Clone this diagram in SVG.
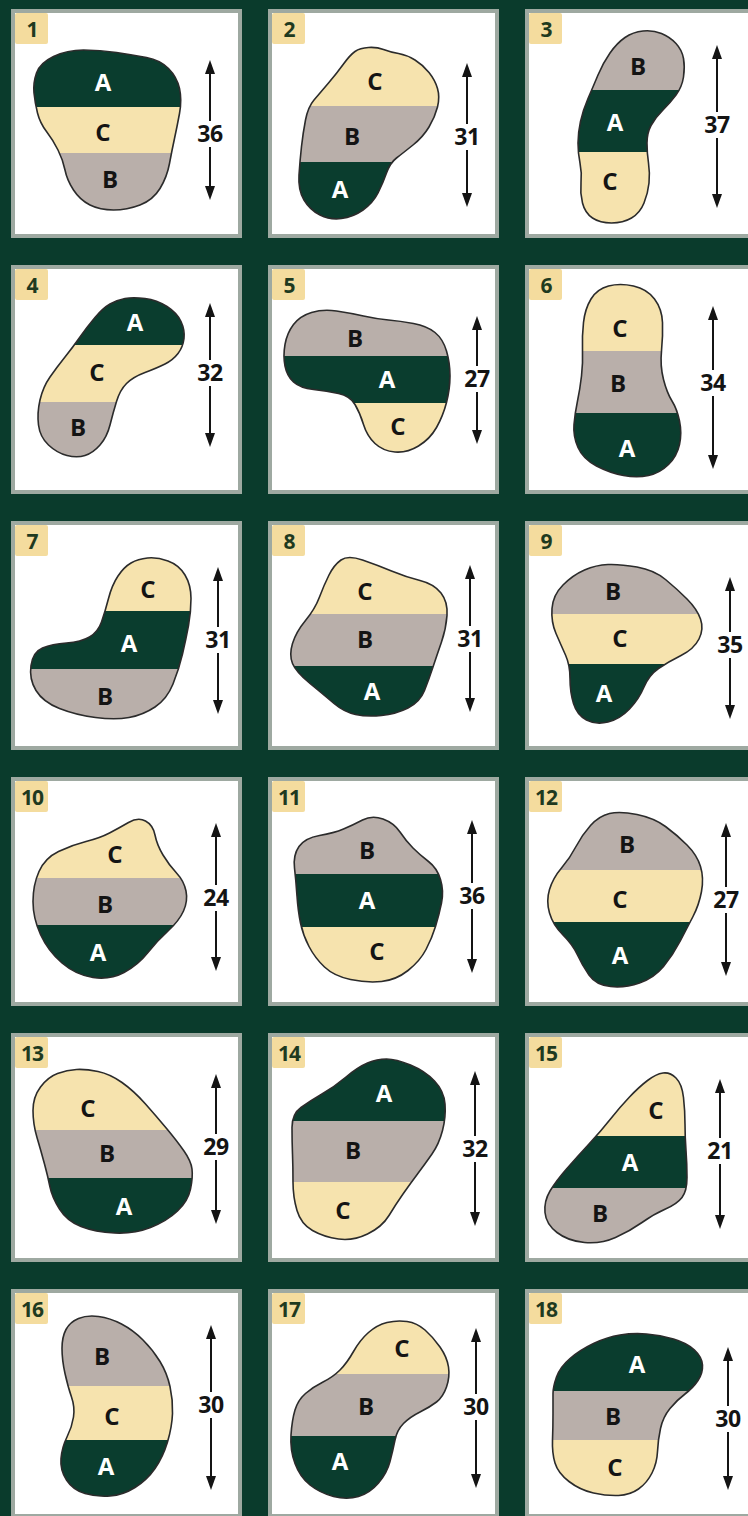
<svg xmlns="http://www.w3.org/2000/svg" xmlns:xlink="http://www.w3.org/1999/xlink" width="748" height="1516" viewBox="0 0 748 1516">
<style>
.bg{fill:#0a3b2c}
.frame{fill:#ffffff;stroke:#9ea9a1;stroke-width:4}
.badge{fill:#f4dc9e}
.num{font-family:"Open Sans","DejaVu Sans",sans-serif;font-weight:700;font-size:21px;fill:#1f3a1f;text-anchor:middle;letter-spacing:-1px}
.a{fill:#0a3d2e}
.b{fill:#b9afaa}
.c{fill:#f6e3ae}
.outline{fill:none;stroke:#2b2b2b;stroke-width:1.6}
.lbl{font-family:"Open Sans","DejaVu Sans",sans-serif;font-weight:700;font-size:24px;fill:#141414;text-anchor:middle}
.lw{fill:#ffffff}
.dim{stroke:#141414;stroke-width:2;fill:none;marker-start:url(#ah);marker-end:url(#ah)}
.dimtxt{font-family:"Open Sans","DejaVu Sans",sans-serif;font-weight:700;font-size:23px;fill:#141414;text-anchor:middle;letter-spacing:-0.5px}
</style>
<defs>
<marker id="ah" viewBox="0 0 14 10" refX="10" refY="5" markerWidth="14" markerHeight="10" markerUnits="userSpaceOnUse" orient="auto-start-reverse">
<path d="M0,0 L14,5 L0,10 Z" fill="#141414"/>
</marker>
<path id="s1" d="M36.5,73 Q40,63 53.5,56.5 Q67,50 83.5,50 Q100,50 116.5,52.5 Q133,55 146.5,57.5 Q160,60 168.5,68.5 Q177,77 179.5,88.5 Q182,100 179.5,113.5 Q177,127 174.5,138.5 Q172,150 169.5,163.5 Q167,177 160,188.5 Q153,200 140,205 Q127,210 113.5,210 Q100,210 90,205 Q80,200 73.5,190 Q67,180 65,170 Q63,160 58,150 Q53,140 46.5,131.5 Q40,123 37.5,113 Q35,103 34,93 Q33,83 36.5,73 Z"/>
<path id="s2" d="M355,51.5 Q360,48 368.5,47.5 Q377,47 383.5,49.5 Q390,52 398.5,53.5 Q407,55 415,60 Q423,65 429,72.5 Q435,80 437.5,88.5 Q440,97 437.5,107 Q435,117 429,127 Q423,137 413,145 Q403,153 396.5,158 Q390,163 386.5,173 Q383,183 378,193 Q373,203 363,210 Q353,217 341.5,218.5 Q330,220 320,215 Q310,210 304,200 Q298,190 299,175 Q300,160 301.5,146.5 Q303,133 305.5,120 Q308,107 314,100 Q320,93 328.5,83 Q337,73 343.5,64 Q350,55 355,51.5 Z"/>
<path id="s3" d="M643,31 Q653,30 661.5,33.5 Q670,37 676,43.5 Q682,50 683.5,58.5 Q685,67 683.5,77 Q682,87 676,95 Q670,103 662.5,110.5 Q655,118 651,125.5 Q647,133 647,143 Q647,153 648.5,163 Q650,173 649,183 Q648,193 644,203 Q640,213 631.5,218 Q623,223 611.5,223 Q600,223 592.5,218 Q585,213 582.5,203 Q580,193 581,183 Q582,173 580,163 Q578,153 578,143 Q578,133 580.5,121.5 Q583,110 588,98.5 Q593,87 598,75 Q603,63 610,53 Q617,43 625,37.5 Q633,32 643,31 Z"/>
<path id="s4" d="M125,298.5 Q133,297 145,298.5 Q157,300 167,306.5 Q177,313 181,321.5 Q185,330 184,338.5 Q183,347 178,353.5 Q173,360 165,364 Q157,368 145,372.5 Q133,377 126.5,383.5 Q120,390 116.5,401.5 Q113,413 110,425 Q107,437 100,445 Q93,453 85,455.5 Q77,458 67,455.5 Q57,453 48.5,445 Q40,437 38.5,425 Q37,413 40,400 Q43,387 50,377 Q57,367 65,357 Q73,347 80,337 Q87,327 95,317.5 Q103,308 110,304 Q117,300 125,298.5 Z"/>
<path id="s5" d="M311.5,312.5 Q323,309 336.5,311 Q350,313 363.5,316 Q377,319 388.5,320 Q400,321 413.5,323.5 Q427,326 435,332.5 Q443,339 446.5,351 Q450,363 450,376 Q450,389 446.5,402.5 Q443,416 436.5,427.5 Q430,439 418.5,446 Q407,453 395,452 Q383,451 375,443.5 Q367,436 363.5,424.5 Q360,413 355,404.5 Q350,396 338.5,393.5 Q327,391 313.5,389.5 Q300,388 293.5,382 Q287,376 285,366 Q283,356 285,344.5 Q287,333 293.5,324.5 Q300,316 311.5,312.5 Z"/>
<path id="s6" d="M608.5,286 Q620,283 633.5,286 Q647,289 654.5,299 Q662,309 662.5,322.5 Q663,336 661.5,351 Q660,366 663.5,379.5 Q667,393 672,401 Q677,409 679.5,421 Q682,433 679.5,444.5 Q677,456 668.5,464.5 Q660,473 648.5,475.5 Q637,478 623.5,475.5 Q610,473 596.5,466 Q583,459 578,447.5 Q573,436 574,424.5 Q575,413 577.5,401 Q580,389 581.5,376 Q583,363 582.5,349.5 Q582,336 583.5,322.5 Q585,309 591,299 Q597,289 608.5,286 Z"/>
<path id="s7" d="M147.5,558 Q157,557 168,561 Q179,565 185,575 Q191,585 191,598.5 Q191,612 188.5,625.5 Q186,639 182.5,654 Q179,669 173,684 Q167,699 155,707 Q143,715 129,717.5 Q115,720 95.5,717.5 Q76,715 59.5,708.5 Q43,702 36,690.5 Q29,679 31,665.5 Q33,652 42.5,648 Q52,644 66.5,643 Q81,642 89.5,637 Q98,632 101.5,622 Q105,612 108.5,598.5 Q112,585 118,576 Q124,567 131,563 Q138,559 147.5,558 Z"/>
<path id="s8" d="M341,560 Q348,555 362.5,560 Q377,565 391.5,571 Q406,577 420,580.5 Q434,584 441,593 Q448,602 447,615.5 Q446,629 441.5,642 Q437,655 433,667 Q429,679 424.5,690.5 Q420,702 408,708 Q396,714 381.5,715.5 Q367,717 355.5,714.5 Q344,712 334,703.5 Q324,695 310,683.5 Q296,672 292.5,663.5 Q289,655 292.5,643.5 Q296,632 305.5,620.5 Q315,609 319.5,597 Q324,585 329,575 Q334,565 341,560 Z"/>
<path id="s9" d="M608,564.5 Q620,564 637,567 Q654,570 665.5,579.5 Q677,589 687,599 Q697,609 700.5,619 Q704,629 699,639 Q694,649 681,655.5 Q668,662 658.5,668.5 Q649,675 644,687 Q639,699 629.5,709 Q620,719 608,722 Q596,725 586.5,720 Q577,715 573.5,703.5 Q570,692 570,678.5 Q570,665 565.5,655 Q561,645 556,633.5 Q551,622 552,608.5 Q553,595 563,585 Q573,575 584.5,570 Q596,565 608,564.5 Z"/>
<path id="s10" d="M128.5,822.5 Q138,817 145.5,821 Q153,825 155,835 Q157,845 163,855 Q169,865 176.5,873 Q184,881 186,891 Q188,901 183.5,911 Q179,921 168,931 Q157,941 147.5,953 Q138,965 124,972.5 Q110,980 93,977.5 Q76,975 62,963 Q48,951 40.5,934.5 Q33,918 33,901.5 Q33,885 39,871.5 Q45,858 58.5,851.5 Q72,845 86,841.5 Q100,838 109.5,833 Q119,828 128.5,822.5 Z"/>
<path id="s11" d="M362.5,820 Q372,815 383,819 Q394,823 400,832 Q406,841 413,848 Q420,855 428.5,861.5 Q437,868 440.5,879.5 Q444,891 441.5,903 Q439,915 435.5,926.5 Q432,938 426,949.5 Q420,961 408,970.5 Q396,980 381.5,981.5 Q367,983 350.5,979.5 Q334,976 324.5,967 Q315,958 309,946.5 Q303,935 300.5,923 Q298,911 297,896 Q296,881 294.5,868 Q293,855 299,846.5 Q305,838 319.5,835.5 Q334,833 343.5,829 Q353,825 362.5,820 Z"/>
<path id="s12" d="M609.5,813.5 Q620,811 637,814.5 Q654,818 665.5,826.5 Q677,835 687,845 Q697,855 700.5,866.5 Q704,878 701.5,891.5 Q699,905 693,916.5 Q687,928 680,941.5 Q673,955 663.5,966.5 Q654,978 639.5,983 Q625,988 610.5,986.5 Q596,985 589,975 Q582,965 577.5,955 Q573,945 563,935 Q553,925 549.5,913 Q546,901 549.5,889.5 Q553,878 561.5,868 Q570,858 576,846.5 Q582,835 590.5,825.5 Q599,816 609.5,813.5 Z"/>
<path id="s13" d="M76.5,1069.5 Q86,1069 98,1071.5 Q110,1074 122,1082.5 Q134,1091 145.5,1104 Q157,1117 167,1129 Q177,1141 184,1151 Q191,1161 192,1169 Q193,1177 190.5,1189 Q188,1201 177.5,1211 Q167,1221 150.5,1227.5 Q134,1234 114.5,1233 Q95,1232 81,1226.5 Q67,1221 59.5,1209 Q52,1197 50,1187 Q48,1177 44.5,1164 Q41,1151 37,1137.5 Q33,1124 33,1110.5 Q33,1097 40.5,1087 Q48,1077 57.5,1073.5 Q67,1070 76.5,1069.5 Z"/>
<path id="s14" d="M386.5,1059 Q396,1059 410.5,1065 Q425,1071 434.5,1081 Q444,1091 445,1104 Q446,1117 442.5,1130.5 Q439,1144 432,1154 Q425,1164 417.5,1174 Q410,1184 403,1194 Q396,1204 389,1215.5 Q382,1227 367.5,1234 Q353,1241 338.5,1239 Q324,1237 312.5,1230.5 Q301,1224 297,1210.5 Q293,1197 293,1182 Q293,1167 292.5,1154 Q292,1141 292,1127.5 Q292,1114 301,1107.5 Q310,1101 322,1094 Q334,1087 346,1077 Q358,1067 367.5,1063 Q377,1059 386.5,1059 Z"/>
<path id="s15" d="M663,1073 Q670,1072 676,1078 Q682,1084 683.5,1097.5 Q685,1111 685,1124 Q685,1137 686,1150.5 Q687,1164 687,1177.5 Q687,1191 682,1197.5 Q677,1204 665.5,1209 Q654,1214 642,1222.5 Q630,1231 615.5,1237.5 Q601,1244 584.5,1242.5 Q568,1241 557,1232.5 Q546,1224 545,1212.5 Q544,1201 550,1191 Q556,1181 566.5,1169 Q577,1157 589,1144 Q601,1131 610.5,1119 Q620,1107 629.5,1097 Q639,1087 647.5,1080.5 Q656,1074 663,1073 Z"/>
<path id="s16" d="M78.5,1318.5 Q87,1315 98.5,1316.5 Q110,1318 121.5,1324 Q133,1330 143,1340 Q153,1350 160,1361.5 Q167,1373 170,1386.5 Q173,1400 172.5,1413.5 Q172,1427 167.5,1442 Q163,1457 155,1468.5 Q147,1480 135,1487.5 Q123,1495 110,1496 Q97,1497 85,1493.5 Q73,1490 66.5,1480 Q60,1470 61,1458.5 Q62,1447 67,1437 Q72,1427 73.5,1417 Q75,1407 71.5,1397 Q68,1387 65,1373.5 Q62,1360 62,1348.5 Q62,1337 66,1329.5 Q70,1322 78.5,1318.5 Z"/>
<path id="s17" d="M387,1322.5 Q397,1320 407,1321.5 Q417,1323 425,1330 Q433,1337 440,1347 Q447,1357 448.5,1367 Q450,1377 446.5,1387 Q443,1397 436.5,1402 Q430,1407 420,1412 Q410,1417 403.5,1423.5 Q397,1430 395,1440 Q393,1450 390,1461.5 Q387,1473 378.5,1483 Q370,1493 358.5,1496.5 Q347,1500 333.5,1496.5 Q320,1493 310,1485 Q300,1477 295,1463.5 Q290,1450 291,1435 Q292,1420 295,1410 Q298,1400 305.5,1393.5 Q313,1387 323,1382 Q333,1377 340,1370 Q347,1363 353.5,1351.5 Q360,1340 368.5,1332.5 Q377,1325 387,1322.5 Z"/>
<path id="s18" d="M620,1335 Q633,1333 646.5,1334 Q660,1335 673.5,1339 Q687,1343 694.5,1350 Q702,1357 702.5,1365 Q703,1373 698,1380.5 Q693,1388 685,1394 Q677,1400 670,1408.5 Q663,1417 660.5,1428.5 Q658,1440 657.5,1451.5 Q657,1463 652,1473 Q647,1483 638.5,1489 Q630,1495 618.5,1495.5 Q607,1496 593.5,1493 Q580,1490 569,1481.5 Q558,1473 555,1463 Q552,1453 552.5,1440 Q553,1427 553,1413.5 Q553,1400 553,1393.5 Q553,1387 556.5,1377 Q560,1367 570,1358.5 Q580,1350 593.5,1343.5 Q607,1337 620,1335 Z"/>
<clipPath id="c1"><use href="#s1"/></clipPath>
<clipPath id="c2"><use href="#s2"/></clipPath>
<clipPath id="c3"><use href="#s3"/></clipPath>
<clipPath id="c4"><use href="#s4"/></clipPath>
<clipPath id="c5"><use href="#s5"/></clipPath>
<clipPath id="c6"><use href="#s6"/></clipPath>
<clipPath id="c7"><use href="#s7"/></clipPath>
<clipPath id="c8"><use href="#s8"/></clipPath>
<clipPath id="c9"><use href="#s9"/></clipPath>
<clipPath id="c10"><use href="#s10"/></clipPath>
<clipPath id="c11"><use href="#s11"/></clipPath>
<clipPath id="c12"><use href="#s12"/></clipPath>
<clipPath id="c13"><use href="#s13"/></clipPath>
<clipPath id="c14"><use href="#s14"/></clipPath>
<clipPath id="c15"><use href="#s15"/></clipPath>
<clipPath id="c16"><use href="#s16"/></clipPath>
<clipPath id="c17"><use href="#s17"/></clipPath>
<clipPath id="c18"><use href="#s18"/></clipPath>
</defs>
<rect class="bg" x="0" y="0" width="748" height="1516"/>

<g id="panel-1">
<rect class="frame" x="13" y="11" width="227" height="225"/>
<rect class="badge" x="15" y="13" width="33" height="31" rx="2"/>
<text class="num" x="32" y="37">1</text>
<g clip-path="url(#c1)"><rect class="a" x="11" y="9" width="231" height="98"/><rect class="c" x="11" y="107" width="231" height="46"/><rect class="b" x="11" y="153" width="231" height="85"/></g>
<use href="#s1" class="outline"/>
<text class="lbl lw" x="103" y="91">A</text><text class="lbl" x="103" y="141">C</text><text class="lbl" x="110" y="188">B</text>
</g>

<g id="panel-2">
<rect class="frame" x="270" y="11" width="227" height="225"/>
<rect class="badge" x="272" y="13" width="33" height="31" rx="2"/>
<text class="num" x="289" y="37">2</text>
<g clip-path="url(#c2)"><rect class="c" x="268" y="9" width="231" height="97"/><rect class="b" x="268" y="106" width="231" height="56"/><rect class="a" x="268" y="162" width="231" height="76"/></g>
<use href="#s2" class="outline"/>
<text class="lbl" x="375" y="90">C</text><text class="lbl" x="352" y="145">B</text><text class="lbl lw" x="340" y="198">A</text>
</g>

<g id="panel-3">
<rect class="frame" x="527" y="11" width="227" height="225"/>
<rect class="badge" x="529" y="13" width="33" height="31" rx="2"/>
<text class="num" x="546" y="37">3</text>
<g clip-path="url(#c3)"><rect class="b" x="525" y="9" width="231" height="81"/><rect class="a" x="525" y="90" width="231" height="62"/><rect class="c" x="525" y="152" width="231" height="86"/></g>
<use href="#s3" class="outline"/>
<text class="lbl" x="638" y="75">B</text><text class="lbl lw" x="615" y="131">A</text><text class="lbl" x="610" y="190">C</text>
</g>

<g id="panel-4">
<rect class="frame" x="13" y="267" width="227" height="225"/>
<rect class="badge" x="15" y="269" width="33" height="31" rx="2"/>
<text class="num" x="32" y="293">4</text>
<g clip-path="url(#c4)"><rect class="a" x="11" y="265" width="231" height="80"/><rect class="c" x="11" y="345" width="231" height="57"/><rect class="b" x="11" y="402" width="231" height="92"/></g>
<use href="#s4" class="outline"/>
<text class="lbl lw" x="135" y="331">A</text><text class="lbl" x="97" y="381">C</text><text class="lbl" x="78" y="436">B</text>
</g>

<g id="panel-5">
<rect class="frame" x="270" y="267" width="227" height="225"/>
<rect class="badge" x="272" y="269" width="33" height="31" rx="2"/>
<text class="num" x="289" y="293">5</text>
<g clip-path="url(#c5)"><rect class="b" x="268" y="265" width="231" height="91"/><rect class="a" x="268" y="356" width="231" height="47"/><rect class="c" x="268" y="403" width="231" height="91"/></g>
<use href="#s5" class="outline"/>
<text class="lbl" x="355" y="347">B</text><text class="lbl lw" x="387" y="388">A</text><text class="lbl" x="398" y="435">C</text>
</g>

<g id="panel-6">
<rect class="frame" x="527" y="267" width="227" height="225"/>
<rect class="badge" x="529" y="269" width="33" height="31" rx="2"/>
<text class="num" x="546" y="293">6</text>
<g clip-path="url(#c6)"><rect class="c" x="525" y="265" width="231" height="86"/><rect class="b" x="525" y="351" width="231" height="62"/><rect class="a" x="525" y="413" width="231" height="81"/></g>
<use href="#s6" class="outline"/>
<text class="lbl" x="620" y="337">C</text><text class="lbl" x="618" y="392">B</text><text class="lbl lw" x="627" y="457">A</text>
</g>

<g id="panel-7">
<rect class="frame" x="13" y="523" width="227" height="225"/>
<rect class="badge" x="15" y="525" width="33" height="31" rx="2"/>
<text class="num" x="32" y="549">7</text>
<g clip-path="url(#c7)"><rect class="c" x="11" y="521" width="231" height="90"/><rect class="a" x="11" y="611" width="231" height="58"/><rect class="b" x="11" y="669" width="231" height="81"/></g>
<use href="#s7" class="outline"/>
<text class="lbl" x="148" y="598">C</text><text class="lbl lw" x="129" y="652">A</text><text class="lbl" x="105" y="705">B</text>
</g>

<g id="panel-8">
<rect class="frame" x="270" y="523" width="227" height="225"/>
<rect class="badge" x="272" y="525" width="33" height="31" rx="2"/>
<text class="num" x="289" y="549">8</text>
<g clip-path="url(#c8)"><rect class="c" x="268" y="521" width="231" height="93"/><rect class="b" x="268" y="614" width="231" height="52"/><rect class="a" x="268" y="666" width="231" height="84"/></g>
<use href="#s8" class="outline"/>
<text class="lbl" x="365" y="600">C</text><text class="lbl" x="365" y="648">B</text><text class="lbl lw" x="372" y="700">A</text>
</g>

<g id="panel-9">
<rect class="frame" x="527" y="523" width="227" height="225"/>
<rect class="badge" x="529" y="525" width="33" height="31" rx="2"/>
<text class="num" x="546" y="549">9</text>
<g clip-path="url(#c9)"><rect class="b" x="525" y="521" width="231" height="93"/><rect class="c" x="525" y="614" width="231" height="50"/><rect class="a" x="525" y="664" width="231" height="86"/></g>
<use href="#s9" class="outline"/>
<text class="lbl" x="613" y="600">B</text><text class="lbl" x="620" y="647">C</text><text class="lbl lw" x="604" y="702">A</text>
</g>

<g id="panel-10">
<rect class="frame" x="13" y="779" width="227" height="225"/>
<rect class="badge" x="15" y="781" width="33" height="31" rx="2"/>
<text class="num" x="32" y="805">10</text>
<g clip-path="url(#c10)"><rect class="c" x="11" y="777" width="231" height="101"/><rect class="b" x="11" y="878" width="231" height="47"/><rect class="a" x="11" y="925" width="231" height="81"/></g>
<use href="#s10" class="outline"/>
<text class="lbl" x="115" y="863">C</text><text class="lbl" x="105" y="913">B</text><text class="lbl lw" x="98" y="961">A</text>
</g>

<g id="panel-11">
<rect class="frame" x="270" y="779" width="227" height="225"/>
<rect class="badge" x="272" y="781" width="33" height="31" rx="2"/>
<text class="num" x="289" y="805">11</text>
<g clip-path="url(#c11)"><rect class="b" x="268" y="777" width="231" height="97"/><rect class="a" x="268" y="874" width="231" height="53"/><rect class="c" x="268" y="927" width="231" height="79"/></g>
<use href="#s11" class="outline"/>
<text class="lbl" x="367" y="859">B</text><text class="lbl lw" x="367" y="909">A</text><text class="lbl" x="377" y="960">C</text>
</g>

<g id="panel-12">
<rect class="frame" x="527" y="779" width="227" height="225"/>
<rect class="badge" x="529" y="781" width="33" height="31" rx="2"/>
<text class="num" x="546" y="805">12</text>
<g clip-path="url(#c12)"><rect class="b" x="525" y="777" width="231" height="93"/><rect class="c" x="525" y="870" width="231" height="52"/><rect class="a" x="525" y="922" width="231" height="84"/></g>
<use href="#s12" class="outline"/>
<text class="lbl" x="627" y="853">B</text><text class="lbl" x="620" y="908">C</text><text class="lbl lw" x="620" y="964">A</text>
</g>

<g id="panel-13">
<rect class="frame" x="13" y="1035" width="227" height="225"/>
<rect class="badge" x="15" y="1037" width="33" height="31" rx="2"/>
<text class="num" x="32" y="1061">13</text>
<g clip-path="url(#c13)"><rect class="c" x="11" y="1033" width="231" height="97"/><rect class="b" x="11" y="1130" width="231" height="48"/><rect class="a" x="11" y="1178" width="231" height="84"/></g>
<use href="#s13" class="outline"/>
<text class="lbl" x="88" y="1117">C</text><text class="lbl" x="107" y="1162">B</text><text class="lbl lw" x="124" y="1215">A</text>
</g>

<g id="panel-14">
<rect class="frame" x="270" y="1035" width="227" height="225"/>
<rect class="badge" x="272" y="1037" width="33" height="31" rx="2"/>
<text class="num" x="289" y="1061">14</text>
<g clip-path="url(#c14)"><rect class="a" x="268" y="1033" width="231" height="88"/><rect class="b" x="268" y="1121" width="231" height="61"/><rect class="c" x="268" y="1182" width="231" height="80"/></g>
<use href="#s14" class="outline"/>
<text class="lbl lw" x="384" y="1102">A</text><text class="lbl" x="353" y="1159">B</text><text class="lbl" x="343" y="1219">C</text>
</g>

<g id="panel-15">
<rect class="frame" x="527" y="1035" width="227" height="225"/>
<rect class="badge" x="529" y="1037" width="33" height="31" rx="2"/>
<text class="num" x="546" y="1061">15</text>
<g clip-path="url(#c15)"><rect class="c" x="525" y="1033" width="231" height="103"/><rect class="a" x="525" y="1136" width="231" height="52"/><rect class="b" x="525" y="1188" width="231" height="74"/></g>
<use href="#s15" class="outline"/>
<text class="lbl" x="656" y="1119">C</text><text class="lbl lw" x="630" y="1171">A</text><text class="lbl" x="600" y="1222">B</text>
</g>

<g id="panel-16">
<rect class="frame" x="13" y="1291" width="227" height="225"/>
<rect class="badge" x="15" y="1293" width="33" height="31" rx="2"/>
<text class="num" x="32" y="1317">16</text>
<g clip-path="url(#c16)"><rect class="b" x="11" y="1289" width="231" height="97"/><rect class="c" x="11" y="1386" width="231" height="54"/><rect class="a" x="11" y="1440" width="231" height="76"/></g>
<use href="#s16" class="outline"/>
<text class="lbl" x="102" y="1365">B</text><text class="lbl" x="112" y="1425">C</text><text class="lbl lw" x="106" y="1475">A</text>
</g>

<g id="panel-17">
<rect class="frame" x="270" y="1291" width="227" height="225"/>
<rect class="badge" x="272" y="1293" width="33" height="31" rx="2"/>
<text class="num" x="289" y="1317">17</text>
<g clip-path="url(#c17)"><rect class="c" x="268" y="1289" width="231" height="85"/><rect class="b" x="268" y="1374" width="231" height="62"/><rect class="a" x="268" y="1436" width="231" height="80"/></g>
<use href="#s17" class="outline"/>
<text class="lbl" x="402" y="1357">C</text><text class="lbl" x="366" y="1415">B</text><text class="lbl lw" x="340" y="1470">A</text>
</g>

<g id="panel-18">
<rect class="frame" x="527" y="1291" width="227" height="225"/>
<rect class="badge" x="529" y="1293" width="33" height="31" rx="2"/>
<text class="num" x="546" y="1317">18</text>
<g clip-path="url(#c18)"><rect class="a" x="525" y="1289" width="231" height="102"/><rect class="b" x="525" y="1391" width="231" height="49"/><rect class="c" x="525" y="1440" width="231" height="76"/></g>
<use href="#s18" class="outline"/>
<text class="lbl lw" x="637" y="1373">A</text><text class="lbl" x="613" y="1425">B</text><text class="lbl" x="615" y="1476">C</text>
</g>

<g id="dimension-arrows">
<path class="dim" d="M210,64 V121 M210,147 V196"/><text class="dimtxt" x="210" y="142">36</text>
<path class="dim" d="M467,67 V124 M467,150 V203"/><text class="dimtxt" x="467" y="145">31</text>
<path class="dim" d="M717,49 V112 M717,138 V204"/><text class="dimtxt" x="717" y="133">37</text>
<path class="dim" d="M210,307 V360 M210,386 V443"/><text class="dimtxt" x="210" y="381">32</text>
<path class="dim" d="M477,320 V366 M477,392 V440"/><text class="dimtxt" x="477" y="387">27</text>
<path class="dim" d="M713,310 V370 M713,396 V465"/><text class="dimtxt" x="713" y="391">34</text>
<path class="dim" d="M218,571 V627 M218,653 V710"/><text class="dimtxt" x="218" y="648">31</text>
<path class="dim" d="M470,569 V626 M470,652 V708"/><text class="dimtxt" x="470" y="647">31</text>
<path class="dim" d="M730,581 V632 M730,658 V715"/><text class="dimtxt" x="730" y="653">35</text>
<path class="dim" d="M216,827 V885 M216,911 V967"/><text class="dimtxt" x="216" y="906">24</text>
<path class="dim" d="M472,824 V883 M472,909 V969"/><text class="dimtxt" x="472" y="904">36</text>
<path class="dim" d="M726,827 V887 M726,913 V972"/><text class="dimtxt" x="726" y="908">27</text>
<path class="dim" d="M216,1078 V1134 M216,1160 V1220"/><text class="dimtxt" x="216" y="1155">29</text>
<path class="dim" d="M475,1075 V1136 M475,1162 V1222"/><text class="dimtxt" x="475" y="1157">32</text>
<path class="dim" d="M720,1083 V1138 M720,1164 V1225"/><text class="dimtxt" x="720" y="1159">21</text>
<path class="dim" d="M211,1329 V1392 M211,1418 V1486"/><text class="dimtxt" x="211" y="1413">30</text>
<path class="dim" d="M476,1332 V1394 M476,1420 V1484"/><text class="dimtxt" x="476" y="1415">30</text>
<path class="dim" d="M728,1351 V1406 M728,1432 V1486"/><text class="dimtxt" x="728" y="1427">30</text>
</g>
</svg>
